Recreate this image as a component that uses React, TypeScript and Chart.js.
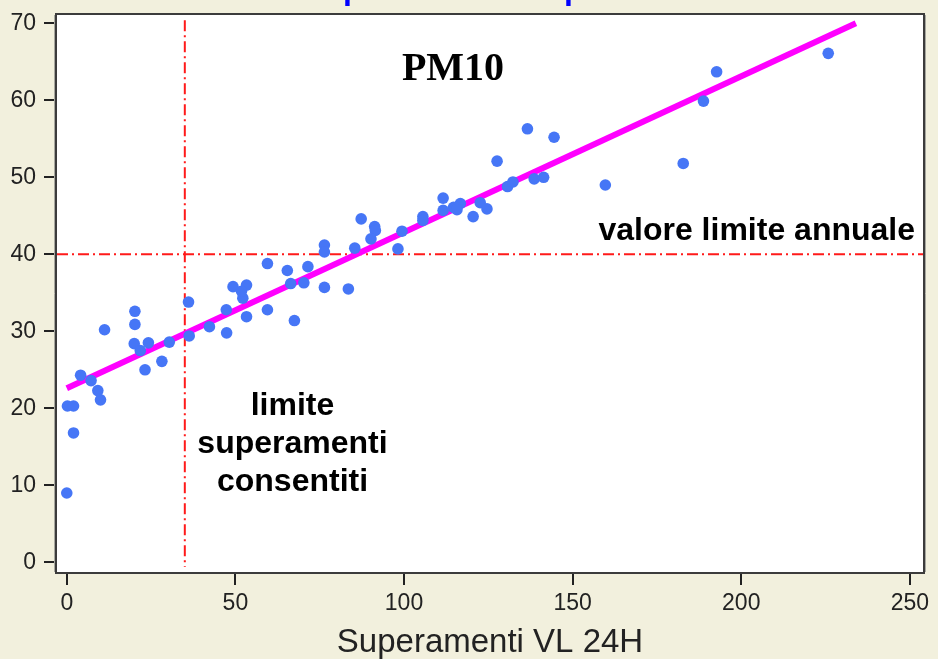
import React, { useEffect, useRef } from "react";
import { Chart, registerables } from "chart.js";

Chart.register(...registerables);

// Scatter data: superamenti VL 24H (x) vs media annua PM10 (y)
const xValues = [
  0, 0.2, 2.0, 2.0, 4.1, 7.2, 9.2, 10.0, 11.2, 20.2,
  20.2, 20.0, 21.8, 24.2, 23.2, 28.2, 30.4, 36.1, 36.3, 42.3,
  47.4, 47.3, 49.3, 53.3, 52.2, 51.8, 53.3, 59.5, 59.5, 65.4,
  66.4, 67.5, 71.5, 70.3, 76.4, 76.4, 76.4, 83.5, 85.4, 87.3,
  91.3, 91.5, 90.2, 98.2, 99.4, 105.6, 105.6, 111.6, 111.6, 114.7,
  116.7, 115.7, 120.5, 122.6, 124.6, 127.6, 130.7, 132.3, 138.6, 141.4,
  136.6, 144.5, 159.7, 182.8, 188.8, 192.7, 225.8,
];
const yValues = [
  9.0, 20.3, 20.3, 16.8, 24.3, 23.6, 22.3, 21.1, 30.2, 32.6,
  30.9, 28.4, 27.5, 28.5, 25.0, 26.1, 28.6, 33.8, 29.4, 30.6,
  29.8, 32.8, 35.8, 36.0, 34.3, 35.2, 31.9, 38.8, 32.8, 37.9,
  36.2, 31.4, 38.4, 36.3, 41.2, 40.3, 35.7, 35.5, 40.8, 44.6,
  43.6, 43.1, 42.0, 40.7, 43.0, 44.9, 44.4, 47.3, 45.7, 46.1,
  46.6, 45.8, 44.9, 46.7, 45.9, 52.1, 48.8, 49.4, 49.8, 50.0,
  56.3, 55.2, 49.0, 51.8, 59.9, 63.7, 66.1,
];

// Regression line end points
const regressionX = [0, 234];
const regressionY = [22.6, 70];

// Reference limits
const limitDays = 35;
const annualLimit = 40;

// Axis ticks
const xTicks = [0, 50, 100, 150, 200, 250];
const yTicks = [0, 10, 20, 30, 40, 50, 60, 70];

// Texts
const chartLabel = "PM10";
const xTitle = "Superamenti VL 24H";
const annualLabel = "valore limite annuale";
const daysLabel = ["limite", "superamenti", "consentiti"];
const cutTitleGlyphs = ["p", "p"];

const SANS = '"Liberation Sans", Arial, Helvetica, sans-serif';
const SERIF = '"Liberation Serif", "Times New Roman", serif';

function zeroPadding(s: any) {
  s.paddingTop = 0;
  s.paddingBottom = 0;
  s.paddingLeft = 0;
  s.paddingRight = 0;
}

export default function App() {
  const ref = useRef<HTMLCanvasElement | null>(null);

  useEffect(() => {
    document.body.style.margin = "0";
    const canvas = ref.current;
    if (!canvas) return;

    const decor = {
      id: "decor",
      beforeDraw(chart: any) {
        const c = chart.ctx;
        const a = chart.chartArea;
        c.save();
        c.fillStyle = "#f2f0dd";
        c.fillRect(0, 0, chart.width, chart.height);
        c.fillStyle = "#ffffff";
        c.fillRect(a.left, a.top, a.right - a.left, a.bottom - a.top);
        c.restore();
      },
      afterDraw(chart: any) {
        const c = chart.ctx;
        const a = chart.chartArea;
        c.save();
        // frame
        c.strokeStyle = "#a8a8a0";
        c.lineWidth = 1;
        c.beginPath();
        c.moveTo(a.left - 2.5, a.top);
        c.lineTo(a.left - 2.5, a.bottom);
        c.moveTo(a.right + 2.5, a.top);
        c.lineTo(a.right + 2.5, a.bottom);
        c.stroke();
        c.strokeStyle = "#3c3c3c";
        c.lineWidth = 2;
        c.strokeRect(a.left - 1, a.top - 1, a.right - a.left + 2, a.bottom - a.top + 2);

        // texts
        c.fillStyle = "#000";
        c.textBaseline = "alphabetic";
        c.font = `bold 40px ${SERIF}`;
        c.textAlign = "center";
        c.fillText(chartLabel, 453, 80);

        c.font = `bold 32px ${SANS}`;
        c.textAlign = "right";
        c.fillText(annualLabel, 915, 240);

        c.textAlign = "center";
        const base = [415, 453, 491];
        daysLabel.forEach((t, i) => c.fillText(t, 292.5, base[i]));

        // cut-off blue title (only descenders visible)
        c.fillStyle = "#0000ff";
        c.font = `bold 32px ${SANS}`;
        c.textAlign = "left";
        const gx = [343, 564];
        cutTitleGlyphs.forEach((g, i) => c.fillText(g, gx[i], -1));
        c.restore();
      },
    };

    const tickFont = { family: SANS, size: 23 };

    const chart = new Chart(canvas, {
      type: "scatter",
      data: {
        datasets: [
          {
            label: "PM10",
            data: xValues.map((x, i) => ({ x, y: yValues[i] })),
            backgroundColor: "#4676f6",
            borderWidth: 0,
            pointRadius: 5.8,
            pointHoverRadius: 5.8,
            order: 1,
          },
          {
            type: "line",
            label: "regressione",
            data: regressionX.map((x, i) => ({ x, y: regressionY[i] })),
            borderColor: "#ff00ff",
            borderWidth: 6,
            pointRadius: 0,
            showLine: true,
            fill: false,
            order: 2,
          },
          {
            type: "line",
            label: "limite annuale",
            data: [
              { x: -2.9, y: annualLimit },
              { x: 253.9, y: annualLimit },
            ],
            borderColor: "#ff1a1a",
            borderWidth: 2,
            borderDash: [11, 4, 2, 4],
            pointRadius: 0,
            showLine: true,
            fill: false,
            order: 3,
          },
          {
            type: "line",
            label: "limite superamenti",
            data: [
              { x: limitDays, y: 70.4 },
              { x: limitDays, y: -0.6 },
            ],
            borderColor: "#ff1a1a",
            borderWidth: 2,
            borderDash: [11, 4, 2, 4],
            pointRadius: 0,
            showLine: true,
            fill: false,
            order: 3,
          },
        ],
      },
      options: {
        animation: false,
        responsive: true,
        maintainAspectRatio: false,
        events: [],
        layout: { padding: { top: 15, right: 15, left: 0, bottom: 0 } },
        plugins: {
          legend: { display: false },
          tooltip: { enabled: false },
          title: { display: false },
        },
        scales: {
          x: {
            type: "linear",
            min: -2.9,
            max: 253.9,
            afterFit(s: any) {
              s.height = 87;
              zeroPadding(s);
            },
            afterBuildTicks(s: any) {
              s.ticks = xTicks.map((v) => ({ value: v }));
            },
            border: { display: false },
            grid: {
              display: true,
              drawOnChartArea: false,
              drawTicks: true,
              tickLength: 13,
              color: "#222",
              lineWidth: 2,
            },
            ticks: {
              font: tickFont,
              color: "#222",
              padding: 5,
              maxRotation: 0,
              autoSkip: false,
            },
            title: {
              display: true,
              text: xTitle,
              color: "#222",
              font: { family: SANS, size: 33, lineHeight: 1 },
              padding: 0,
            },
          },
          y: {
            type: "linear",
            min: -1.26,
            max: 71.08,
            afterFit(s: any) {
              s.width = 57;
              zeroPadding(s);
            },
            afterBuildTicks(s: any) {
              s.ticks = yTicks.map((v) => ({ value: v }));
            },
            border: { display: false },
            grid: {
              display: true,
              drawOnChartArea: false,
              drawTicks: true,
              tickLength: 13,
              color: "#222",
              lineWidth: 2,
            },
            ticks: {
              font: tickFont,
              color: "#222",
              padding: 8,
              autoSkip: false,
            },
          },
        },
      },
      plugins: [decor],
    } as any);

    return () => chart.destroy();
  }, []);

  return (
    <div style={{ width: 938, height: 659, position: "relative" }}>
      <canvas ref={ref} />
    </div>
  );
}
